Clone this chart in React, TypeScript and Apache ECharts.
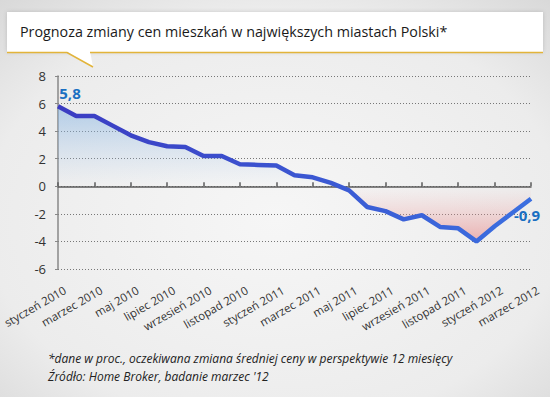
import React, { useEffect, useRef } from "react";
import * as echarts from "echarts";

const months = ["styczeń", "luty", "marzec", "kwiecień", "maj", "czerwiec", "lipiec", "sierpień", "wrzesień", "październik", "listopad", "grudzień"];
const years = [2010, 2011, 2012];
const cats: string[] = years.flatMap((y) => months.map((m) => `${m} ${y}`)).slice(0, 27);
const values = [5.8, 5.1, 5.1, 4.4, 3.7, 3.2, 2.9, 2.85, 2.2, 2.2, 1.6, 1.55, 1.5, 0.8, 0.65, 0.25, -0.3, -1.5, -1.8, -2.4, -2.1, -2.95, -3.05, -4.0, -2.9, -1.9, -0.9];
const yTicks = { min: -6, max: 8, interval: 2 };
const title = "Prognoza zmiany cen mieszkań w największych miastach Polski*";
const note1 = "*dane w proc., oczekiwana zmiana średniej ceny w perspektywie 12 miesięcy";
const note2 = "Źródło: Home Broker, badanie marzec '12";

export default function App() {
  const ref = useRef<HTMLDivElement>(null);
  useEffect(() => {
    document.body.style.margin = "0";
    const chart = echarts.init(ref.current!, null, { renderer: "svg" });
    const last = values.length - 1;
    const maxV = Math.max(...values);
    const minV = Math.min(...values);
    const zeroOff = maxV / (maxV - minV);
    const fmt = (v: number) => String(v).replace(".", ",");
    const data = values.map((v, i) => {
      if (i === 0) return { value: v, label: { show: true, position: "top", offset: [12, -1], formatter: () => fmt(v) } };
      if (i === last) return { value: v, label: { show: true, position: "bottom", offset: [-4, 4], formatter: () => fmt(v) } };
      return v;
    });
    const shift = 7;
    chart.setOption({
      animation: false,
      backgroundColor: new echarts.graphic.RadialGradient(0.5, 0.55, 0.75, [
        { offset: 0, color: "#f6f6f6" },
        { offset: 0.7, color: "#ececec" },
        { offset: 1, color: "#d8d8d8" },
      ]),
      grid: [
        { left: 58, right: 19, top: 76, bottom: 128, containLabel: false, outerBoundsMode: "none" },
        { left: 58 + shift, right: 19 - shift, top: 76, bottom: 128, containLabel: false, outerBoundsMode: "none" },
      ],
      xAxis: [
        {
          type: "category",
          gridIndex: 0,
          data: cats,
          boundaryGap: false,
          position: "bottom",
          axisLine: { show: true, onZero: true, lineStyle: { color: "#5a5a5a", width: 1.5 } },
          axisTick: { show: true, inside: true, interval: 1, length: 4, lineStyle: { color: "#5a5a5a", width: 1.5 } },
          axisLabel: { show: false },
        },
        {
          type: "category",
          gridIndex: 1,
          data: cats,
          boundaryGap: false,
          position: "bottom",
          axisLine: { show: false, onZero: false },
          axisTick: { show: false },
          axisLabel: {
            interval: 1,
            rotate: 30,
            margin: 20,
            fontSize: 11.5,
            color: "#333",
            fontFamily: "Open Sans",
          },
        },
      ],
      yAxis: [
        {
          type: "value",
          gridIndex: 0,
          min: yTicks.min,
          max: yTicks.max,
          interval: yTicks.interval,
          axisLine: { show: true, lineStyle: { color: "#888", width: 1.5 } },
          axisTick: { show: true, length: 3, lineStyle: { color: "#888" } },
          axisLabel: { fontSize: 13, color: "#333", margin: 12, fontFamily: "Open Sans" },
          splitLine: { show: true, lineStyle: { type: [1, 2], color: "#777", width: 1 } },
        },
        {
          type: "value",
          gridIndex: 1,
          min: yTicks.min,
          max: yTicks.max,
          interval: yTicks.interval,
          show: false,
          splitLine: { show: false },
        },
      ],
      series: [
        {
          type: "line",
          data,
          xAxisIndex: 0,
          yAxisIndex: 0,
          symbol: "circle",
          symbolSize: 0,
          showSymbol: true,
          lineStyle: {
            width: 4.5,
            color: new echarts.graphic.LinearGradient(0, 0, 1, 0, [
              { offset: 0, color: "#3b3cc2" },
              { offset: 1, color: "#3b6fe0" },
            ]),
          },
          itemStyle: { color: "#3b4fd0" },
          label: { color: "#1a6fc2", fontSize: 15, fontWeight: "bold", fontFamily: "Open Sans" },
          areaStyle: {
            origin: 0,
            color: new echarts.graphic.LinearGradient(0, 0, 0, 1, [
              { offset: 0, color: "rgba(130,178,226,0.8)" },
              { offset: zeroOff, color: "rgba(170,200,235,0.0)" },
              { offset: zeroOff, color: "rgba(240,170,170,0.0)" },
              { offset: 1, color: "rgba(230,125,125,0.8)" },
            ]),
          },
        },
      ],
      graphic: [
        { type: "rect", shape: { x: 7, y: 12, width: 536, height: 40 }, style: { fill: "#ffffff", shadowBlur: 4, shadowColor: "rgba(0,0,0,0.15)" }, z: 10 },
        { type: "polygon", shape: { points: [[66, 51], [93, 67], [90, 51]] }, style: { fill: "#ffffff" }, z: 10 },
        { type: "polyline", shape: { points: [[7, 52.5], [67, 52.5], [93, 67]] }, style: { stroke: "#e2b43a", lineWidth: 1.5, fill: null }, z: 11 },
        { type: "line", shape: { x1: 90, y1: 52.5, x2: 543, y2: 52.5 }, style: { stroke: "#e2b43a", lineWidth: 1.5 }, z: 11 },
        { type: "text", x: 20, y: 31, style: { text: title, fontSize: 14.3, fontWeight: 500, fill: "#1a1a1a", fontFamily: "Open Sans", verticalAlign: "middle" }, z: 12 },
        { type: "text", x: 48, y: 358, style: { text: note1, fontSize: 12, fontStyle: "italic", fill: "#222", fontFamily: "Open Sans", verticalAlign: "middle" }, z: 12 },
        { type: "text", x: 48, y: 376, style: { text: note2, fontSize: 12, fontStyle: "italic", fill: "#222", fontFamily: "Open Sans", verticalAlign: "middle" }, z: 12 },
      ],
    });
    return () => chart.dispose();
  }, []);
  return <div ref={ref} style={{ width: 550, height: 397 }} />;
}
